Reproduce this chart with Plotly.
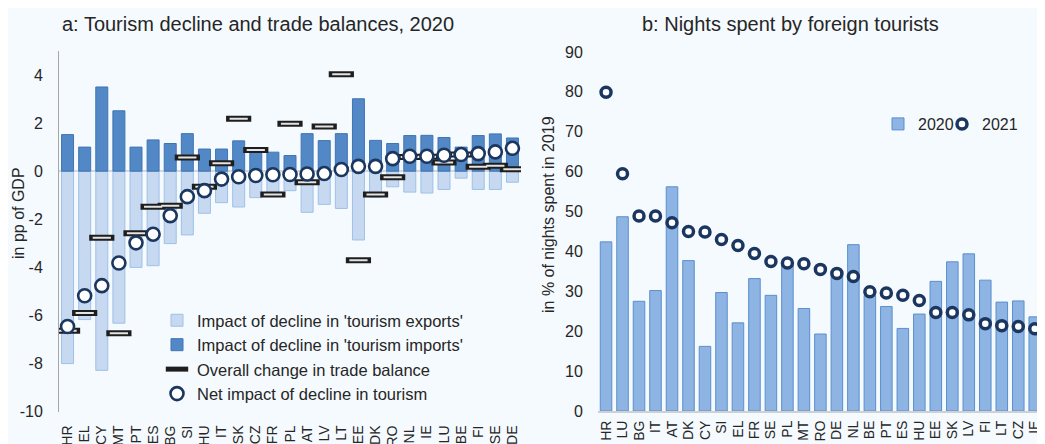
import plotly.graph_objects as go

# ---------------- Panel a data ----------------
cats_a = ["HR", "EL", "CY", "MT", "PT", "ES", "BG", "SI", "HU", "IT", "SK", "CZ", "FR", "PL",
          "AT", "LV", "LT", "EE", "DK", "RO", "NL", "IE", "LU", "BE", "FI", "SE", "DE"]
exports_a = [-8.0, -6.17, -8.28, -6.32, -4.0, -3.93, -3.01, -2.65, -1.75, -1.31, -1.49, -1.1, -0.94, -0.81,
             -1.71, -1.38, -1.55, -2.86, -1.08, -0.65, -0.87, -0.91, -0.76, -0.29, -0.76, -0.76, -0.46]
imports_a = [1.52, 1.0, 3.5, 2.51, 1.0, 1.3, 1.15, 1.56, 0.92, 0.92, 1.26, 0.92, 0.79, 0.65,
             1.56, 1.27, 1.56, 3.01, 1.28, 1.15, 1.48, 1.49, 1.4, 1.0, 1.48, 1.55, 1.38]
overall_a = [-6.63, -5.9, -2.77, -6.74, -2.58, -1.48, -1.44, 0.57, -0.65, 0.33, 2.18, 0.88, -0.97, 1.97,
             -0.46, 1.86, 4.03, -3.7, -0.97, -0.25, 0.59, 0.6, 0.36, 0.69, 0.18, 0.22, 0.08]
net_a = [-6.46, -5.18, -4.76, -3.82, -2.98, -2.62, -1.85, -1.06, -0.81, -0.33, -0.23, -0.18, -0.15, -0.14,
         -0.12, -0.1, 0.07, 0.2, 0.2, 0.52, 0.62, 0.62, 0.66, 0.69, 0.73, 0.8, 0.95]
ticks_a = [-10, -8, -6, -4, -2, 0, 2, 4]

# ---------------- Panel b data ----------------
cats_b = ["HR", "LU", "BG", "IT", "AT", "DK", "CY", "SI", "EL", "FR", "SE", "PL", "MT", "RO",
          "DE", "NL", "BE", "PT", "ES", "HU", "EE", "SK", "LV", "FI", "LT", "CZ", "IE"]
nights_2020 = [42.4, 48.7, 27.5, 30.2, 56.2, 37.7, 16.2, 29.7, 22.1, 33.2, 29.0, 36.5, 25.7, 19.3,
               35.0, 41.7, 29.0, 26.2, 20.7, 24.3, 32.5, 37.4, 39.4, 32.8, 27.3, 27.6, 23.6]
nights_2021 = [79.9, 59.5, 48.9, 48.9, 47.2, 45.0, 44.9, 43.0, 41.5, 39.5, 37.5, 37.1, 36.9, 35.5,
               34.5, 33.7, 29.9, 29.6, 29.0, 27.7, 24.7, 24.7, 24.1, 21.9, 21.4, 21.2, 20.6]
ticks_b = [0, 10, 20, 30, 40, 50, 60, 70, 80, 90]

# The page body has an 8px margin; figure sized to fit the window exactly
OFF = 8
W, H = 1045 - OFF, 444 - OFF
BG = "#F5FAFE"
TXT = "#262626"
FONT = "Liberation Sans, Arial, sans-serif"
NAVY = "#1B365F"


def px(x):  # screen x -> paper fraction
    return (x - OFF) / W


def py(y):  # screen y -> paper fraction
    return (H - (y - OFF)) / H


fig = go.Figure()

# Panel a
fig.add_trace(go.Bar(x=cats_a, y=exports_a, name="Impact of decline in 'tourism exports'",
                     marker=dict(color="#C6D9F1", line=dict(color="#9EC0E8", width=1)),
                     xaxis="x", yaxis="y", legend="legend"))
fig.add_trace(go.Bar(x=cats_a, y=imports_a, name="Impact of decline in 'tourism imports'",
                     marker=dict(color="#5388C6", line=dict(color="#3F74B5", width=1)),
                     xaxis="x", yaxis="y", legend="legend"))
fig.add_trace(go.Scatter(x=cats_a, y=overall_a, mode="markers", name="Overall change in trade balance",
                         marker=dict(symbol="line-ew", size=18, line=dict(width=6, color="#1E1E1E")),
                         xaxis="x", yaxis="y", legend="legend"))
fig.add_trace(go.Scatter(x=cats_a, y=overall_a, mode="markers", showlegend=False, hoverinfo="skip",
                         marker=dict(symbol="line-ew", size=13, line=dict(width=2, color="#E4E4E4")),
                         xaxis="x", yaxis="y"))
fig.add_trace(go.Scatter(x=cats_a, y=net_a, mode="markers", name="Net impact of decline in tourism",
                         marker=dict(symbol="circle", size=13, color="white", line=dict(width=2.6, color=NAVY)),
                         xaxis="x", yaxis="y", legend="legend"))

# Panel b
fig.add_trace(go.Bar(x=cats_b, y=nights_2020, name="2020",
                     marker=dict(color="#8DB4E2", line=dict(color="#5B8FCF", width=1)),
                     xaxis="x2", yaxis="y2", legend="legend2"))
fig.add_trace(go.Scatter(x=cats_b, y=nights_2021, mode="markers", name="2021",
                         marker=dict(symbol="circle", size=10, color="white", line=dict(width=3.5, color=NAVY)),
                         xaxis="x2", yaxis="y2", legend="legend3"))

fig.update_layout(
    width=W, height=H,
    margin=dict(l=0, r=0, t=0, b=0),
    paper_bgcolor=BG, plot_bgcolor=BG,
    font=dict(family=FONT, size=16, color=TXT),
    barmode="relative", bargap=0.3,
    xaxis=dict(domain=[px(59), px(521)], range=[-0.5, 26.5], type="category",
               tickmode="array", tickvals=cats_a, ticktext=cats_a,
               tickangle=-90, tickfont=dict(size=14), ticklabelstandoff=10,
               showline=False, showgrid=False, zeroline=False, anchor="y", automargin=False),
    yaxis=dict(domain=[py(411.7), py(50.9)], range=[-10, 5], tickmode="array", tickvals=ticks_a,
               ticktext=[str(v) for v in ticks_a], showgrid=False,
               zeroline=True, zerolinecolor="#D6D6D6", zerolinewidth=2,
               showline=True, linecolor="#A6A6A6", linewidth=1, ticklabelstandoff=12,
               anchor="x", automargin=False, tickfont=dict(size=16)),
    xaxis2=dict(domain=[px(597.8), px(1043)], range=[-0.5, 26.5], type="category",
                tickmode="array", tickvals=cats_b, ticktext=cats_b,
                tickangle=-90, tickfont=dict(size=14), ticklabelstandoff=2,
                showline=True, linecolor="#D0D0D0", linewidth=2, showgrid=False, zeroline=False,
                anchor="y2", automargin=False),
    yaxis2=dict(domain=[py(411.0), py(52.0)], range=[0, 90], tickmode="array", tickvals=ticks_b,
                ticktext=[str(v) for v in ticks_b], showgrid=False, zeroline=False,
                showline=False, ticklabelstandoff=14, anchor="x2", automargin=False,
                tickfont=dict(size=16)),
    legend=dict(x=px(157), xanchor="left", y=py(303), yanchor="top",
                bgcolor="rgba(0,0,0,0)", font=dict(size=16.5, color=TXT), traceorder="normal",
                itemwidth=30, tracegroupgap=0),
    legend2=dict(x=px(878), xanchor="left", y=py(124), yanchor="middle",
                 orientation="h", bgcolor="rgba(0,0,0,0)", font=dict(size=16, color=TXT),
                 itemwidth=30),
    legend3=dict(x=px(942), xanchor="left", y=py(124), yanchor="middle",
                 orientation="h", bgcolor="rgba(0,0,0,0)", font=dict(size=16, color=TXT),
                 itemwidth=30),
    annotations=[
        dict(text="a: Tourism decline and trade balances, 2020", x=px(258), y=py(24),
             xref="paper", yref="paper", showarrow=False, xanchor="center", yanchor="middle",
             font=dict(size=20, color=TXT)),
        dict(text="b: Nights spent by foreign tourists", x=px(790), y=py(24),
             xref="paper", yref="paper", showarrow=False, xanchor="center", yanchor="middle",
             font=dict(size=20, color=TXT)),
        dict(text="in pp of GDP", x=px(18), y=py(213), textangle=-90,
             xref="paper", yref="paper", showarrow=False, xanchor="center", yanchor="middle",
             font=dict(size=16, color=TXT)),
        dict(text="in % of nights spent in 2019", x=px(548), y=py(215), textangle=-90,
             xref="paper", yref="paper", showarrow=False, xanchor="center", yanchor="middle",
             font=dict(size=16, color=TXT)),
    ],
    showlegend=True,
)

fig.write_html("out.html")
